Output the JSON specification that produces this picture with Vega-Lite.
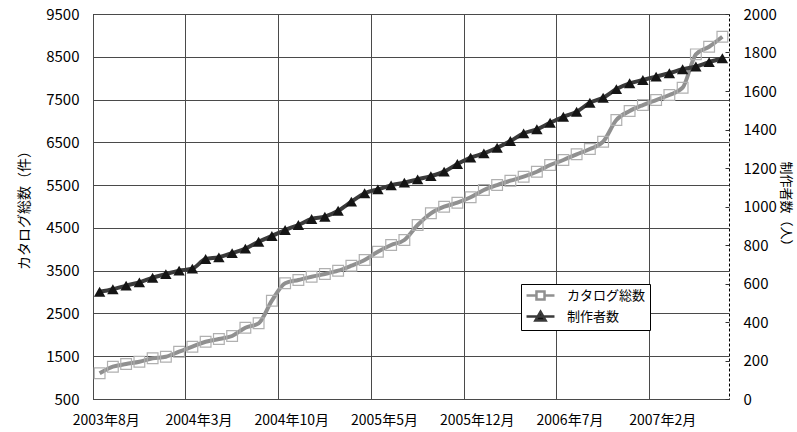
{
  "$schema": "https://vega.github.io/schema/vega-lite/v6.json",
  "width": 636,
  "height": 385,
  "autosize": "none",
  "padding": {"left": 93, "top": 14, "right": 68, "bottom": 33},
  "background": "white",
  "config": {
    "view": {"stroke": "black", "strokeWidth": 1, "strokeDash": [3, 2], "fill": "white"},
    "font": "Noto Sans CJK JP",
    "axis": {"labelFont": "Noto Sans CJK JP", "titleFont": "Noto Sans CJK JP", "labelColor": "black", "titleColor": "black", "titleFontWeight": "normal"}
  },
  "data": {"values": [
    {"month": "2003年8月", "catalog": 1101, "creators": 557},
    {"month": "2003年9月", "catalog": 1255, "creators": 570},
    {"month": "2003年10月", "catalog": 1318, "creators": 589},
    {"month": "2003年11月", "catalog": 1372, "creators": 606},
    {"month": "2003年12月", "catalog": 1451, "creators": 630},
    {"month": "2004年1月", "catalog": 1489, "creators": 649},
    {"month": "2004年2月", "catalog": 1606, "creators": 667},
    {"month": "2004年3月", "catalog": 1723, "creators": 677},
    {"month": "2004年4月", "catalog": 1839, "creators": 727},
    {"month": "2004年5月", "catalog": 1903, "creators": 736},
    {"month": "2004年6月", "catalog": 1973, "creators": 758},
    {"month": "2004年7月", "catalog": 2165, "creators": 781},
    {"month": "2004年8月", "catalog": 2270, "creators": 817},
    {"month": "2004年9月", "catalog": 2798, "creators": 847},
    {"month": "2004年10月", "catalog": 3205, "creators": 878},
    {"month": "2004年11月", "catalog": 3282, "creators": 904},
    {"month": "2004年12月", "catalog": 3359, "creators": 935},
    {"month": "2005年1月", "catalog": 3422, "creators": 947},
    {"month": "2005年2月", "catalog": 3499, "creators": 978},
    {"month": "2005年3月", "catalog": 3616, "creators": 1025},
    {"month": "2005年4月", "catalog": 3749, "creators": 1069},
    {"month": "2005年5月", "catalog": 3943, "creators": 1089},
    {"month": "2005年6月", "catalog": 4100, "creators": 1110},
    {"month": "2005年7月", "catalog": 4217, "creators": 1124},
    {"month": "2005年8月", "catalog": 4567, "creators": 1141},
    {"month": "2005年9月", "catalog": 4841, "creators": 1158},
    {"month": "2005年10月", "catalog": 4995, "creators": 1181},
    {"month": "2005年11月", "catalog": 5089, "creators": 1221},
    {"month": "2005年12月", "catalog": 5215, "creators": 1254},
    {"month": "2006年1月", "catalog": 5385, "creators": 1276},
    {"month": "2006年2月", "catalog": 5502, "creators": 1305},
    {"month": "2006年3月", "catalog": 5603, "creators": 1340},
    {"month": "2006年4月", "catalog": 5696, "creators": 1380},
    {"month": "2006年5月", "catalog": 5813, "creators": 1401},
    {"month": "2006年6月", "catalog": 5970, "creators": 1435},
    {"month": "2006年7月", "catalog": 6087, "creators": 1466},
    {"month": "2006年8月", "catalog": 6220, "creators": 1492},
    {"month": "2006年9月", "catalog": 6344, "creators": 1539},
    {"month": "2006年10月", "catalog": 6515, "creators": 1565},
    {"month": "2006年11月", "catalog": 7022, "creators": 1610},
    {"month": "2006年12月", "catalog": 7232, "creators": 1640},
    {"month": "2007年1月", "catalog": 7372, "creators": 1657},
    {"month": "2007年2月", "catalog": 7489, "creators": 1675},
    {"month": "2007年3月", "catalog": 7606, "creators": 1692},
    {"month": "2007年4月", "catalog": 7777, "creators": 1713},
    {"month": "2007年5月", "catalog": 8557, "creators": 1727},
    {"month": "2007年6月", "catalog": 8735, "creators": 1750},
    {"month": "2007年7月", "catalog": 8969, "creators": 1770}
  ]},
  "encoding": {
    "x": {
      "field": "month", "type": "ordinal", "sort": null,
      "scale": {"type": "band", "paddingInner": 0, "paddingOuter": 0},
      "axis": {
        "title": null,
        "values": ["2003年8月", "2004年3月", "2004年10月", "2005年5月", "2005年12月", "2006年7月", "2007年2月"],
        "bandPosition": 0,
        "labelOffset": 6.6,
        "labelAngle": 0,
        "labelFontSize": 14,
        "labelPadding": 14,
        "ticks": false,
        "domain": false,
        "grid": true,
        "gridColor": "#4a4a4a",
        "gridWidth": 1
      }
    }
  },
  "layer": [
    {
      "encoding": {
        "y": {
          "field": "catalog", "type": "quantitative",
          "scale": {"domain": [500, 9500], "nice": false, "zero": false},
          "axis": {
            "title": "カタログ総数（件）",
            "titleFontSize": 14,
            "titlePadding": 14,
            "format": "d",
            "values": [500, 1500, 2500, 3500, 4500, 5500, 6500, 7500, 8500, 9500],
            "labelFontSize": 15,
            "labelPadding": 14,
            "ticks": false,
            "domain": false,
            "grid": true,
            "gridColor": "#4a4a4a",
            "gridWidth": 1
          }
        }
      },
      "layer": [
        {
          "mark": {"type": "line", "interpolate": "monotone", "strokeWidth": 4},
          "encoding": {
            "color": {
              "datum": "カタログ総数", "type": "nominal",
              "scale": {"domain": ["カタログ総数", "制作者数"], "range": ["#909090", "#3a3a3a"]},
              "legend": {
                "title": null,
                "orient": "none",
                "legendX": 428,
                "legendY": 270,
                "direction": "vertical",
                "strokeColor": "black",
                "fillColor": "white",
                "padding": 4,
                "rowPadding": 1,
                "labelFont": "Noto Sans CJK JP",
                "labelFontSize": 13,
                "labelColor": "black",
                "labelOffset": 19,
                "symbolSize": 144,
                "symbolOffset": 8,
                "symbolStrokeWidth": 2.5,
                "encode": {
                  "symbols": {
                    "update": {
                      "shape": {"signal": "datum.value === 'カタログ総数' ? 'M-2.33,0H-0.67M0.67,0H2.33M-0.67,-0.67H0.67V0.67H-0.67Z' : 'M-2.33,0H2.33M0,-0.8L0.85,0.65H-0.85Z'"},
                      "fill": {"signal": "datum.value === 'カタログ総数' ? 'transparent' : '#111111'"},
                      "strokeWidth": {"value": 2.5}
                    }
                  }
                }
              }
            }
          }
        },
        {
          "mark": {"type": "point", "shape": "square", "size": 115, "filled": false, "stroke": "#b0b0b0", "strokeWidth": 1.2, "opacity": 1}
        }
      ]
    },
    {
      "encoding": {
        "y": {
          "field": "creators", "type": "quantitative",
          "scale": {"domain": [0, 2000], "nice": false, "zero": true},
          "axis": {
            "orient": "right",
            "title": "制作者数（人）",
            "titleFontSize": 13,
            "titlePadding": 2,
            "format": "d",
            "values": [0, 200, 400, 600, 800, 1000, 1200, 1400, 1600, 1800, 2000],
            "labelFontSize": 15,
            "labelPadding": 18,
            "ticks": true,
            "tickSize": -4,
            "tickColor": "#333333",
            "domain": false,
            "grid": false
          }
        }
      },
      "layer": [
        {
          "mark": {"type": "line", "interpolate": "monotone", "strokeWidth": 4},
          "encoding": {
            "color": {"datum": "制作者数", "type": "nominal"}
          }
        },
        {
          "mark": {"type": "point", "shape": "triangle-up", "size": 130, "filled": true, "fill": "#151515", "stroke": null, "opacity": 1}
        }
      ]
    }
  ],
  "resolve": {"scale": {"y": "independent"}}
}
